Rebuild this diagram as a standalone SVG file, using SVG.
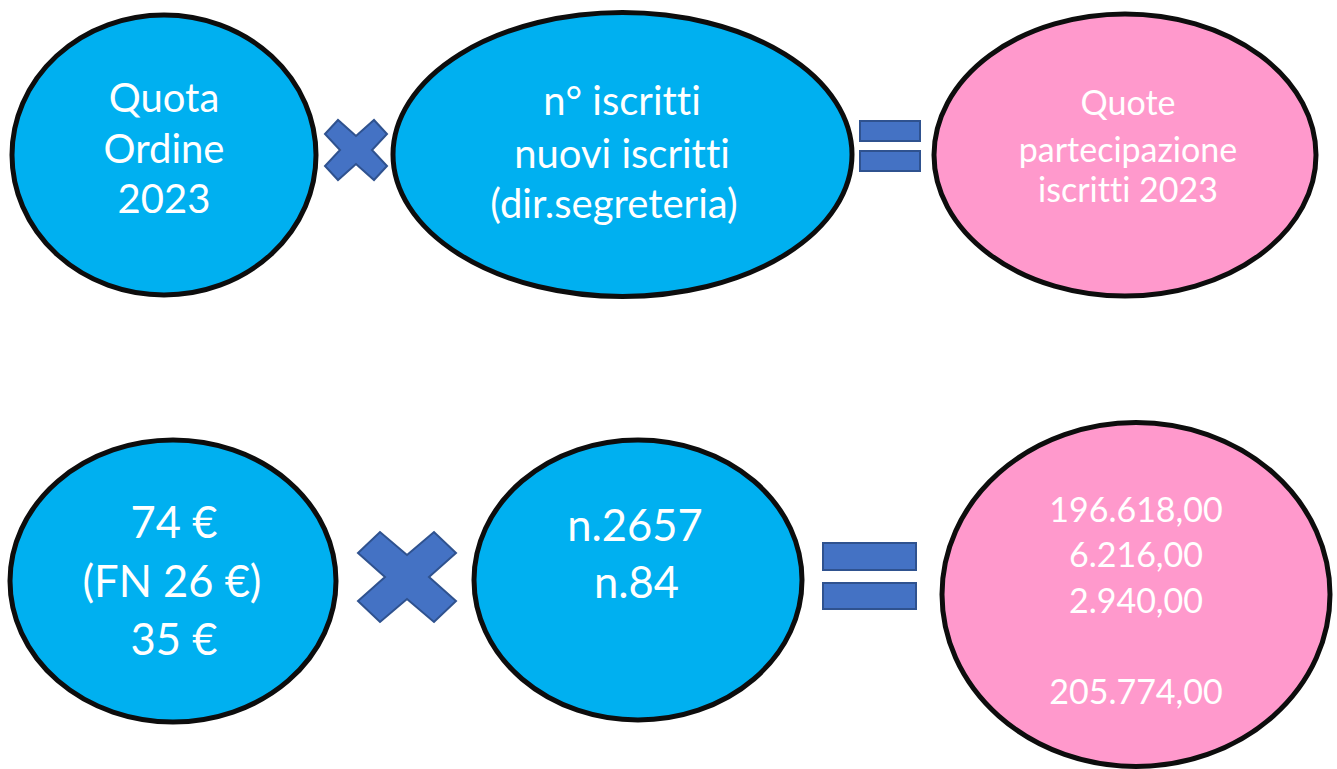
<svg xmlns="http://www.w3.org/2000/svg" width="1337" height="769" viewBox="0 0 1337 769">
<style>
.blue{fill:#00B0F0;stroke:#0D0D0D;stroke-width:5}
.pink{fill:#FF99CC;stroke:#0D0D0D;stroke-width:5}
.op{fill:#4472C4;stroke:#2F528F;stroke-width:2}
text{font-family:Lato,"Noto Sans","Liberation Sans",sans-serif;fill:#FFFFFF;text-anchor:middle;font-variant-ligatures:none;font-feature-settings:"liga" 0}
.t42{font-size:40px}
.t36{font-size:34px}
.t48{font-size:43.5px}
.t37{font-size:34px}
</style>
<rect width="1337" height="769" fill="#FFFFFF"/>
<g id="quota-ordine">
<ellipse class="blue" cx="164" cy="155" rx="152" ry="140"/>
<text class="t42" x="164" y="112">Quota</text>
<text class="t42" x="164" y="163">Ordine</text>
<text class="t42" x="164" y="213">2023</text>
</g>
<g id="num-iscritti">
<ellipse class="blue" cx="622.5" cy="154.5" rx="229.5" ry="142"/>
<text class="t42" x="622" y="115">n° iscritti</text>
<text class="t42" x="622" y="168">nuovi iscritti</text>
<text class="t42" x="614" y="218">(dir.segreteria)</text>
</g>
<g id="quote-partecipazione">
<ellipse class="pink" cx="1125" cy="155" rx="191" ry="141"/>
<text class="t36" x="1128" y="115">Quote</text>
<text class="t36" x="1128" y="162">partecipazione</text>
<text class="t36" x="1128" y="202">iscritti 2023</text>
</g>
<g id="importi">
<ellipse class="blue" cx="173" cy="581" rx="163" ry="141"/>
<text class="t48" x="174" y="538">74 €</text>
<text class="t48" x="172" y="597">(FN 26 €)</text>
<text class="t48" x="174" y="655">35 €</text>
</g>
<g id="numeri">
<ellipse class="blue" cx="638" cy="580" rx="164" ry="140"/>
<text class="t48" x="635" y="541">n.2657</text>
<text class="t48" x="636.5" y="598">n.84</text>
</g>
<g id="totali">
<ellipse class="pink" cx="1136" cy="594.5" rx="194" ry="172"/>
<text class="t37" x="1136" y="522">196.618,00</text>
<text class="t37" x="1136" y="567">6.216,00</text>
<text class="t37" x="1136" y="613">2.940,00</text>
<text class="t37" x="1136" y="704">205.774,00</text>
</g>
<g id="operators">
<polygon class="op" transform="translate(356,150)" points="-31,-16 -18,-30 0,-14 18,-30 31,-16 16,0 31,16 18,30 0,14 -18,30 -31,16 -16,0"/>
<rect class="op" x="860" y="121" width="60" height="20"/>
<rect class="op" x="860" y="151" width="60" height="20"/>
<polygon class="op" transform="translate(407,577)" points="-49,-24 -27,-45 0,-22 27,-45 49,-24 22,0 49,24 27,45 0,22 -27,45 -49,24 -22,0"/>
<rect class="op" x="823" y="543" width="93" height="27"/>
<rect class="op" x="823" y="583" width="93" height="26"/>
</g>
</svg>
